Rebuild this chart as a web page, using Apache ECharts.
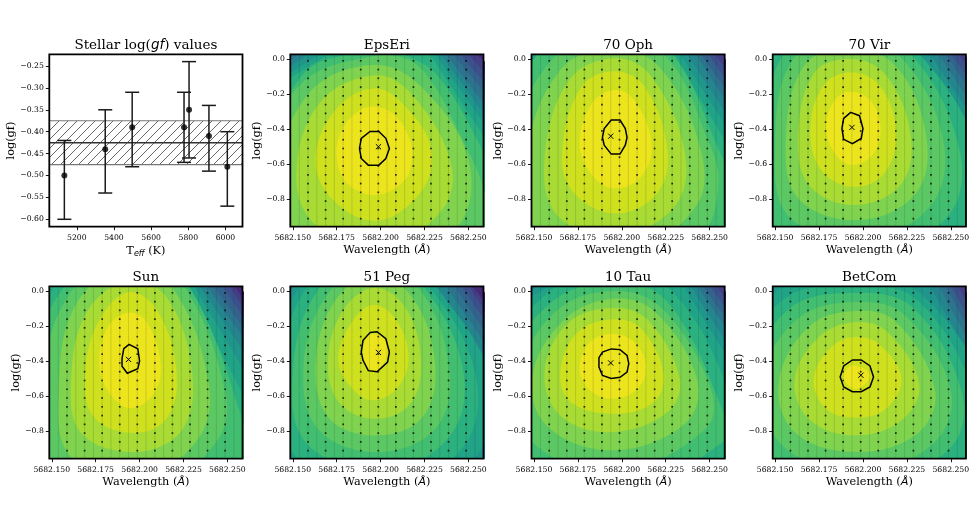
<!DOCTYPE html>
<html><head><meta charset="utf-8">
<style>html,body{margin:0;padding:0;background:#fff}#c{width:980px;height:519px}</style>
<script src="https://cdn.jsdelivr.net/npm/echarts@6/dist/echarts.min.js"></script>
</head><body><div id="c"></div>
<script>
// ---- Stellar log(gf) panel ----
const stellarTeff   = [5133, 5353, 5498, 5777, 5804, 5911, 6010];
const stellarLogGf  = [-0.50, -0.44, -0.39, -0.39, -0.35, -0.41, -0.48];
const stellarLow    = [-0.60, -0.54, -0.48, -0.47, -0.46, -0.49, -0.57];
const stellarHigh   = [-0.42, -0.35, -0.31, -0.31, -0.24, -0.34, -0.40];
const meanLogGf = -0.425, meanLow = -0.475, meanHigh = -0.375;
const teffTicks  = [5200, 5400, 5600, 5800, 6000];
const stellarTicks = [-0.25, -0.30, -0.35, -0.40, -0.45, -0.50, -0.55, -0.60];

// ---- Wavelength/log(gf) panels; wavelength in mA above 5682 A, log(gf) in thousandths ----
const waveTicks = [5682.150, 5682.175, 5682.200, 5682.225, 5682.250];
const gfTicks   = [0, -0.2, -0.4, -0.6, -0.8];
const bandColors = ['#ece41c','#cfe01f','#a8db34','#80d34e','#5cc863','#42be71','#2bb07f','#20a386',
                    '#1f958b','#25858e','#2d738e','#33638d','#3c508b','#433e85','#482878','#481b6d'];
const sampleColumns = [153.7,158.7,163.7,168.7,173.7,178.7,183.7,188.7,193.7,198.7,203.7,208.7,213.7,218.7,223.7,228.7,233.7,238.7,243.7,248.7,253.7];
const sampleRows = [-10,-60,-110,-160,-210,-260,-310,-360,-410,-460,-510,-560,-610,-660,-710,-760,-810,-860,-910];

const epsEriRings = [
 [[197,-272],[208,-320],[216,-443],[218,-566],[213,-700],[197,-775],[181,-709],[175,-557],[178,-405],[187,-300]],
 [[197,-167],[215,-281],[229,-519],[223,-757],[198,-922],[172,-794],[163,-557],[175,-282]],
 [[197,-92],[219,-215],[240,-595],[235,-861],[201,-1070],[164,-956],[152,-671],[165,-253]],
 [[197,-34],[224,-167],[250,-576],[244,-956],[203,-1165],[154,-1070],[142,-652],[160,-186]],
 [[196,17],[216,-6],[229,-129],[244,-405],[259,-747],[261,-956],[203,-1279],[142,-1165],[131,-614],[155,-139]],
 [[195,80],[213,27],[233,-101],[259,-538],[275,-899],[268,-1279],[203,-1469],[135,-1279],[121,-614],[150,-167],[162,-34],[181,27]]];
const epsEriCorners = [[171,-110,228,-452],[166,-82,231,-376],[159,-44,234,-320],[154,-10,237,-262],[148,30,241,-196],[148,30,245,-139],[148,30,250,-82],[148,30,254,-15]];
const epsEriOutline = [[194,-413],[199,-413],[203,-452],[205,-510],[203,-567],[199,-605],[193,-605],[189,-567],[188,-510],[189,-452]];
const epsEriBest = [198.8,-500];

const oph70Rings = [
 [[196,-177],[207,-234],[217,-481],[211,-671],[196,-737],[183,-661],[176,-481],[183,-253]],
 [[196,-69],[213,-158],[226,-519],[220,-766],[197,-880],[173,-766],[166,-538],[177,-158]],
 [[196,4],[217,-101],[236,-538],[230,-842],[198,-1003],[164,-899],[156,-576],[170,-120]],
 [[196,61],[222,-53],[245,-519],[242,-842],[200,-1127],[154,-1013],[146,-557],[165,-63]],
 [[196,127],[226,4],[249,-462],[255,-709],[245,-1013],[204,-1241],[147,-1127],[137,-557],[160,-6]],
 [[196,203],[228,42],[259,-595],[268,-766],[257,-1089],[204,-1355],[137,-1241],[130,-557],[154,51]]];
const oph70Corners = [[152,-25,230,-481],[150,13,233,-386],[148,30,237,-310],[148,30,242,-243],[148,30,245,-177],[148,30,249,-120],[148,30,253,-63],[148,30,257,-6]];
const oph70Outline = [[194,-348],[199,-348],[202,-396],[203,-447],[202,-491],[199,-542],[194,-542],[190,-491],[189,-447],[190,-396]];
const oph70Best = [193.7,-440];

const vir70Rings = [
 [[193,-186],[204,-234],[210,-386],[206,-538],[194,-604],[184,-538],[179,-386],[184,-234]],
 [[193,-76],[210,-158],[219,-424],[212,-652],[195,-728],[177,-642],[170,-424],[177,-158]],
 [[193,0],[213,-91],[227,-424],[222,-709],[196,-832],[170,-728],[163,-462],[172,-82]],
 [[192,61],[219,-44],[236,-443],[230,-766],[198,-918],[164,-804],[156,-500],[166,-44]],
 [[192,127],[223,-6],[246,-481],[238,-842],[200,-1022],[158,-899],[150,-500],[160,-6]],
 [[192,194],[227,32],[255,-519],[248,-899],[200,-1136],[152,-975],[144,-538],[155,32]],
 [[192,260],[230,51],[265,-538],[255,-1013],[204,-1241],[145,-1089],[137,-557],[151,51]]];
const vir70Corners = [[152,4,233,-376],[148,30,238,-291],[148,30,243,-224],[148,30,247,-158],[148,30,250,-101],[148,30,254,-44],[148,30,257,4]];
const vir70Outline = [[193,-304],[198,-323],[200,-396],[199,-453],[194,-483],[189,-458],[188,-396],[189,-339]];
const vir70Best = [193.7,-390];

const sunRings = [
 [[194,-123],[204,-177],[212,-414],[208,-585],[195,-667],[183,-585],[177,-414],[182,-205]],
 [[194,-6],[210,-110],[221,-452],[216,-718],[197,-809],[174,-718],[169,-471],[177,-167]],
 [[194,61],[216,-44],[230,-471],[224,-794],[198,-918],[167,-813],[161,-509],[170,-120]],
 [[194,137],[219,13],[239,-509],[234,-832],[201,-1060],[161,-946],[154,-566],[164,-72]],
 [[194,213],[223,61],[249,-585],[243,-870],[203,-1174],[154,-1022],[145,-566],[159,-34]],
 [[194,289],[225,80],[258,-718],[260,-1022],[203,-1288],[146,-1098],[137,-528],[155,-5]]];
const sunCorners = [[152,-25,227,-604],[149,13,231,-452],[148,30,234,-348],[148,30,238,-272],[148,30,242,-215],[148,30,247,-158],[148,30,251,-101],[148,30,254,-53],[148,30,256,-6]];
const sunOutline = [[194,-304],[199,-329],[200,-399],[199,-443],[193,-469],[190,-429],[190,-386],[191,-329]];
const sunBest = [193.7,-390];

const peg51Rings = [
 [[196,-243],[203,-281],[204,-367],[198,-452],[193,-443],[190,-348],[192,-272]],
 [[196,-78],[209,-167],[216,-376],[210,-547],[196,-623],[184,-557],[176,-395],[183,-186]],
 [[196,19],[214,-91],[223,-395],[217,-642],[197,-728],[177,-642],[170,-414],[178,-120]],
 [[195,89],[218,-34],[231,-414],[224,-718],[198,-823],[171,-728],[163,-433],[173,-72]],
 [[195,156],[222,13],[239,-433],[232,-775],[199,-918],[165,-794],[156,-452],[168,-44]],
 [[195,232],[224,32],[247,-452],[239,-832],[201,-1022],[158,-870],[150,-471],[163,-15]],
 [[195,308],[226,51],[254,-471],[247,-889],[203,-1136],[152,-946],[143,-490],[157,4]],
 [[195,384],[228,70],[263,-509],[254,-946],[203,-1250],[146,-1022],[135,-509],[154,23]]];
const peg51Corners = [[151,-6,232,-376],[149,13,237,-300],[148,30,242,-234],[148,30,246,-167],[148,30,250,-110],[148,30,252,-63],[148,30,256,-11]];
const peg51Outline = [[194,-237],[198,-232],[203,-272],[205,-348],[204,-405],[198,-460],[193,-454],[190,-395],[189,-348],[190,-281]];
const peg51Best = [198.8,-350];

const tau10Rings = [
 [[195,-243],[207,-291],[214,-433],[208,-566],[194,-614],[181,-557],[176,-433],[182,-291]],
 [[195,-162],[211,-215],[224,-481],[217,-642],[194,-699],[171,-633],[165,-462],[175,-234]],
 [[195,-95],[215,-167],[233,-500],[226,-690],[195,-804],[166,-718],[156,-471],[169,-186]],
 [[195,-44],[219,-120],[243,-509],[236,-756],[196,-908],[158,-775],[149,-490],[167,-167]],
 [[195,0],[223,-101],[251,-566],[247,-794],[198,-1022],[150,-870],[142,-490],[162,-120]],
 [[195,51],[226,-63],[259,-718],[259,-851],[200,-1136],[143,-965],[133,-490],[159,-72]],
 [[195,108],[230,-15],[264,-642],[268,-946],[204,-1250],[135,-1060],[126,-490],[156,-25]]];
const tau10Corners = [[159,-34,235,-367],[153,0,239,-291],[150,19,243,-215],[148,30,246,-158],[148,30,250,-101],[148,30,254,-53],[148,30,257,-6]];
const tau10Outline = [[194,-330],[199,-334],[203,-367],[204,-414],[203,-462],[199,-492],[194,-498],[189,-481],[187,-433],[187,-380],[189,-348]];
const tau10Best = [193.7,-410];

const betComRings = [
 [[195,-424],[202,-452],[204,-490],[200,-538],[195,-557],[190,-519],[189,-481],[192,-433]],
 [[196,-262],[210,-310],[222,-500],[213,-671],[196,-722],[179,-671],[172,-500],[182,-319]],
 [[196,-177],[214,-234],[232,-528],[222,-737],[196,-823],[170,-737],[161,-509],[175,-262]],
 [[196,-114],[219,-177],[241,-566],[231,-813],[197,-918],[162,-813],[152,-528],[169,-205]],
 [[196,-63],[224,-139],[250,-566],[240,-870],[200,-1022],[155,-889],[143,-509],[163,-158]],
 [[196,-11],[228,-91],[256,-566],[250,-889],[200,-1136],[147,-965],[136,-509],[158,-101]],
 [[196,32],[231,-53],[263,-585],[259,-927],[204,-1250],[139,-1041],[128,-509],[154,-53]],
 [[196,89],[233,-15],[271,-585],[269,-965],[204,-1364],[132,-1098],[120,-509],[150,-6]]];
const betComCorners = [[153,19,238,-348],[148,30,243,-272],[148,30,247,-205],[148,30,250,-139],[148,30,254,-72],[148,30,257,-15]];
const betComOutline = [[194,-393],[199,-393],[204,-427],[206,-490],[204,-547],[199,-574],[194,-574],[189,-547],[187,-490],[189,-427]];
const betComBest = [198.8,-480];

const stars = [
 {name:'EpsEri', rings:epsEriRings, corners:epsEriCorners, outline:epsEriOutline, best:epsEriBest},
 {name:'70 Oph', rings:oph70Rings, corners:oph70Corners, outline:oph70Outline, best:oph70Best},
 {name:'70 Vir', rings:vir70Rings, corners:vir70Corners, outline:vir70Outline, best:vir70Best},
 {name:'Sun', rings:sunRings, corners:sunCorners, outline:sunOutline, best:sunBest},
 {name:'51 Peg', rings:peg51Rings, corners:peg51Corners, outline:peg51Outline, best:peg51Best},
 {name:'10 Tau', rings:tau10Rings, corners:tau10Corners, outline:tau10Outline, best:tau10Best},
 {name:'BetCom', rings:betComRings, corners:betComCorners, outline:betComOutline, best:betComBest}];

// ---- layout ----
const SERIF = '"DejaVu Serif"', SANS = '"DejaVu Sans"';
const cellLeft = [49.3, 290.3, 531.5, 772.7, 49.3, 290.3, 531.5, 772.7];
const cellTop  = [54.3, 54.3, 54.3, 54.3, 286.3, 286.3, 286.3, 286.3];
const cellW = 193.2, cellH = 172.4;
const X_MIN = 5682.1486, X_MAX = 5682.2586, Y_MIN = -0.956, Y_MAX = 0.027;
const TICK = 7.7, LABEL = 11.3, TITLE = 13.5;

const minus = s => s.replace('-', '\u2212');
const grid = [], xAxis = [], yAxis = [], title = [], series = [];

function axisCommon(values, fmt, margin) {
  return {
    type:'value', splitLine:{show:false},
    axisLine:{show:false, onZero:false},
    axisTick:{show:true, length:3.5, customValues:values, lineStyle:{color:'#000', width:0.9}},
    axisLabel:{show:true, customValues:values, margin:margin, formatter:fmt, color:'#000', fontFamily:SERIF, fontSize:TICK, hideOverlap:false},
    nameLocation:'middle'
  };
}
function addCell(i, bg, titleText, titleRich) {
  grid.push({left:cellLeft[i], top:cellTop[i], width:cellW, height:cellH, show:true, backgroundColor:bg, borderWidth:0});
  title.push({text:titleText, left:cellLeft[i]+cellW/2, top:cellTop[i]-16, padding:0, textAlign:'center',
    textStyle:{fontFamily:SERIF, fontSize:TITLE, fontWeight:'normal', color:'#000', rich:titleRich||undefined}});
}
function frameSeries(i) {
  return {type:'custom', xAxisIndex:i, yAxisIndex:i, silent:true, z:10, data:[[0,0]],
    renderItem:(p)=>({type:'rect', shape:{x:p.coordSys.x,y:p.coordSys.y,width:p.coordSys.width,height:p.coordSys.height},
      style:{fill:'none', stroke:'#000', lineWidth:1.8}})};
}

// panel 0: stellar values
addCell(0, '#fff', '{a|Stellar log(}{b|gf}{a|) values}', {
  a:{fontFamily:SERIF,fontSize:TITLE,color:'#000'},
  b:{fontFamily:SANS,fontStyle:'italic',fontSize:TITLE,color:'#000'}});
xAxis.push(Object.assign(axisCommon(teffTicks, v=>String(v), 7), {gridIndex:0, min:5052, max:6091.6,
  name:'{a|T}{s|eff}{a| (K)}', nameGap:18, nameTextStyle:{rich:{
    a:{fontFamily:SERIF,fontSize:LABEL,color:'#000'},
    s:{fontFamily:SANS,fontStyle:'italic',fontSize:8,color:'#000',padding:[5,0,0,0]}}}}));
yAxis.push(Object.assign(axisCommon(stellarTicks, v=>minus(v.toFixed(2)), 5.5), {gridIndex:0, min:-0.6169, max:-0.2233,
  name:'log(gf)', nameGap:32, nameRotate:90, nameTextStyle:{fontFamily:SERIF,fontSize:LABEL,color:'#000'}}));

const hatch = document.createElement('canvas'); hatch.width = hatch.height = 9;
(function(){const c=hatch.getContext('2d');c.strokeStyle='rgba(30,30,30,0.85)';c.lineWidth=0.8;
 c.beginPath();c.moveTo(-1,10);c.lineTo(10,-1);c.moveTo(-2,2);c.lineTo(2,-2);c.moveTo(7,11);c.lineTo(11,7);c.stroke();})();

series.push({type:'custom', xAxisIndex:0, yAxisIndex:0, silent:true, clip:true, data:[[5500,meanLow,meanHigh]],
  renderItem:(p,api)=>{
    const cs=p.coordSys, y1=api.coord([5500,api.value(2)])[1], y2=api.coord([5500,api.value(1)])[1];
    return {type:'group', children:[
      {type:'rect', shape:{x:cs.x,y:y1,width:cs.width,height:y2-y1}, style:{fill:{image:hatch,repeat:'repeat'}, stroke:'none'}},
      {type:'line', shape:{x1:cs.x,y1:y1,x2:cs.x+cs.width,y2:y1}, style:{stroke:'#777',lineWidth:1.2}},
      {type:'line', shape:{x1:cs.x,y1:y2,x2:cs.x+cs.width,y2:y2}, style:{stroke:'#777',lineWidth:1.2}}
    ]};
  }});
series.push({type:'custom', xAxisIndex:0, yAxisIndex:0, silent:true, clip:true, data:[[5500,meanLogGf]],
  renderItem:(p,api)=>{const cs=p.coordSys,y=api.coord([5500,api.value(1)])[1];
    return {type:'line',shape:{x1:cs.x,y1:y,x2:cs.x+cs.width,y2:y},style:{stroke:'#333',lineWidth:1.5}};}});
series.push({type:'custom', xAxisIndex:0, yAxisIndex:0, silent:true,
  data:stellarTeff.map((t,i)=>[t,stellarLow[i],stellarHigh[i]]),
  renderItem:(p,api)=>{
    const a=api.coord([api.value(0),api.value(1)]), b=api.coord([api.value(0),api.value(2)]), s={stroke:'#1a1a1a',lineWidth:1.5};
    return {type:'group',children:[
      {type:'line',shape:{x1:a[0],y1:a[1],x2:b[0],y2:b[1]},style:s},
      {type:'line',shape:{x1:a[0]-7,y1:a[1],x2:a[0]+7,y2:a[1]},style:s},
      {type:'line',shape:{x1:b[0]-7,y1:b[1],x2:b[0]+7,y2:b[1]},style:s}]};
  }});
series.push({type:'scatter', xAxisIndex:0, yAxisIndex:0, silent:true, symbol:'circle', symbolSize:6,
  itemStyle:{color:'#000'}, data:stellarTeff.map((t,i)=>[t,stellarLogGf[i]])});
series.push(frameSeries(0));

// star panels
stars.forEach((star, k) => {
  const i = k + 1;
  const toData = q => [5682 + q[0]/1000, q[1]/1000];
  const cornerPoly = c => [[148,c[1]],[c[0],30],[c[2],30],[259.5,c[3]],[259.5,-960],[148,-960]];
  const polys = [];
  star.corners.slice().reverse().forEach(c => polys.push({pts:cornerPoly(c), smooth:0}));
  star.rings.slice().reverse().forEach(r => polys.push({pts:r, smooth:0.38}));
  const total = star.rings.length + star.corners.length;
  addCell(i, bandColors[Math.min(total, bandColors.length-1)], star.name);
  xAxis.push(Object.assign(axisCommon(waveTicks, v=>v.toFixed(3), 7), {gridIndex:i, min:X_MIN, max:X_MAX,
    name:'{a|Wavelength (}{b|\u00c5}{a|)}', nameGap:18, nameTextStyle:{rich:{
      a:{fontFamily:SERIF,fontSize:LABEL,color:'#000'},
      b:{fontFamily:SANS,fontStyle:'italic',fontSize:LABEL,color:'#000'}}}}));
  yAxis.push(Object.assign(axisCommon(gfTicks, v=>minus(v.toFixed(1)), 5.5), {gridIndex:i, min:Y_MIN, max:Y_MAX,
    name:'log(gf)', nameGap:28, nameRotate:90, nameTextStyle:{fontFamily:SERIF,fontSize:LABEL,color:'#000'}}));
  // filled contour bands
  series.push({type:'custom', xAxisIndex:i, yAxisIndex:i, silent:true, clip:true,
    data:polys.map((_,n)=>[X_MIN,Y_MIN,n]),
    renderItem:(p,api)=>{
      const n=api.value(2), poly=polys[n];
      const color=bandColors[total-1-n];
      return {type:'polygon', shape:{points:poly.pts.map(q=>api.coord(toData(q))), smooth:poly.smooth},
        style:{fill:color, stroke:'none'}};
    }});
  // sampled grid columns
  series.push({type:'custom', xAxisIndex:i, yAxisIndex:i, silent:true, clip:true,
    data:sampleColumns.map(c=>[5682+c/1000]),
    renderItem:(p,api)=>{
      const x=api.coord([api.value(0),0])[0], cs=p.coordSys;
      return {type:'line',shape:{x1:x,y1:cs.y,x2:x,y2:cs.y+cs.height},
        style:{stroke:'rgba(30,50,40,0.3)',lineWidth:1,lineDash:[1,1]}};
    }});
  const dots=[];
  sampleColumns.forEach((c,ci)=>{ if(ci%2===1) sampleRows.forEach(r=>dots.push([5682+c/1000,r/1000])); });
  series.push({type:'scatter', xAxisIndex:i, yAxisIndex:i, silent:true, symbol:'rect', symbolSize:1.7,
    itemStyle:{color:'#000'}, data:dots});
  // confidence outline
  series.push({type:'custom', xAxisIndex:i, yAxisIndex:i, silent:true, clip:true, data:[[X_MIN,Y_MIN]],
    renderItem:(p,api)=>({type:'polygon',shape:{points:star.outline.map(q=>api.coord(toData(q)))},
      style:{fill:'none',stroke:'#000',lineWidth:1.5}})});
  // best-fit cross
  series.push({type:'custom', xAxisIndex:i, yAxisIndex:i, silent:true, data:[toData(star.best)],
    renderItem:(p,api)=>{const c=api.coord([api.value(0),api.value(1)]),s={stroke:'#000',lineWidth:1},d=2.6;
      return {type:'group',children:[
        {type:'line',shape:{x1:c[0]-d,y1:c[1]-d,x2:c[0]+d,y2:c[1]+d},style:s},
        {type:'line',shape:{x1:c[0]-d,y1:c[1]+d,x2:c[0]+d,y2:c[1]-d},style:s}]};}});
  series.push(frameSeries(i));
});

const chart = echarts.init(document.getElementById('c'), null, {renderer:'canvas'});
chart.setOption({animation:false, backgroundColor:'#fff', title, grid, xAxis, yAxis, series});
</script></body></html>
